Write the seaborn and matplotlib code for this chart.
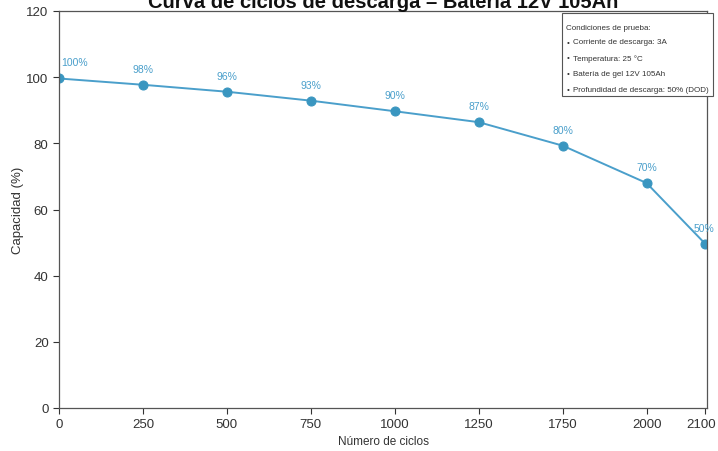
import matplotlib
matplotlib.use("Agg")
import matplotlib.pyplot as plt
import matplotlib.transforms as mtransforms
import seaborn as sns
import pandas as pd
from matplotlib.patches import Rectangle

# data
ciclos = ["0", "250", "500", "750", "1000", "1250", "1750", "2000", "2100"]
posiciones = [0, 1, 2, 3, 4, 5, 6, 7, 7.7]
capacidad = [99.6, 97.7, 95.6, 92.9, 89.7, 86.4, 79.3, 68.0, 49.6]
etiquetas = ["100%", "98%", "96%", "93%", "90%", "87%", "80%", "70%", "50%"]
condiciones = [
    "Corriente de descarga: 3A",
    "Temperatura: 25 °C",
    "Batería de gel 12V 105Ah",
    "Profundidad de descarga: 50% (DOD)",
]

sns.set_style("ticks")
plt.rcParams["font.family"] = ["Liberation Sans", "DejaVu Sans"]

color_linea = "#4a9fcb"
color_punto = "#3a96c0"

df = pd.DataFrame({"pos": posiciones, "cap": capacidad})

fig = plt.figure(figsize=(7.18, 4.52), dpi=100)
ax = fig.add_axes([59 / 718, 1 - 409 / 452, (707 - 59) / 718, (409 - 12) / 452])

sns.lineplot(data=df, x="pos", y="cap", ax=ax, color=color_linea, linewidth=1.4,
             marker="o", markersize=6.5, markerfacecolor=color_punto,
             markeredgecolor=color_punto)

for i, (x, y, txt) in enumerate(zip(posiciones, capacidad, etiquetas)):
    dx = 0
    if i == 0:
        dx = 11
    elif i == len(posiciones) - 1:
        dx = -1
    ax.annotate(txt, (x, y), xytext=(dx, 8), textcoords="offset points",
                ha="center", va="bottom", fontsize=7.5, color="#4a9fcb")

ax.set_xlim(0, 7.72)
ax.set_ylim(0, 120)
ax.set_xticks(posiciones)
ax.set_xticklabels(ciclos)
ax.set_yticks(range(0, 121, 20))
ax.tick_params(labelsize=9.5, colors="#333333", length=4, width=0.8)
for s in ax.spines.values():
    s.set_visible(True)
    s.set_color("#555555")
    s.set_linewidth(0.9)

# nudge the last tick label so it stays inside the picture
ultima = ax.get_xticklabels()[-1]
ultima.set_transform(ultima.get_transform() +
                     mtransforms.ScaledTranslation(-4 / 100, 0, fig.dpi_scale_trans))

ax.set_xlabel("Número de ciclos", fontsize=8.5, color="#333333", labelpad=3)
ax.set_ylabel("Capacidad (%)", fontsize=9.5, color="#333333", labelpad=2)

fig.text(383 / 718, 1 - 8 / 452, "Curva de ciclos de descarga – Batería 12V 105Ah",
         ha="center", va="baseline", fontsize=14.5, fontweight="bold", color="#111111")

# caja de condiciones
fig.patches.append(Rectangle((562 / 718, 1 - 97 / 452), (713 - 562) / 718, (97 - 14) / 452,
                             transform=fig.transFigure, facecolor="white",
                             edgecolor="#555555", linewidth=0.8, zorder=5))
fig.text(566 / 718, 1 - 28 / 452, "Condiciones de prueba:", fontsize=5.8,
         color="#333333", va="center", zorder=6)
for j, linea in enumerate(condiciones):
    yy = 1 - (43 + j * 15.7) / 452
    fig.text(567 / 718, yy, "•", fontsize=5.8, color="#333333", va="center", zorder=6)
    fig.text(573 / 718, yy, linea, fontsize=5.8, color="#333333", va="center", zorder=6)

fig.savefig("out.png", dpi=100)
